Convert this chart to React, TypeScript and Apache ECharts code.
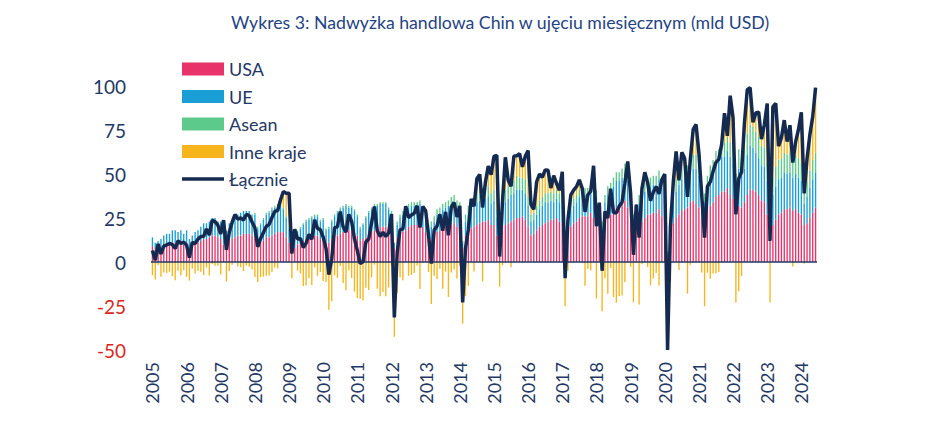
import React, { useEffect, useRef } from "react";
import * as echarts from "echarts";

// months Jan 2005 - Jun 2024
const years = [
  2005, 2006, 2007, 2008, 2009, 2010, 2011, 2012, 2013, 2014,
  2015, 2016, 2017, 2018, 2019, 2020, 2021, 2022, 2023, 2024,
];
const monthsInLastYear = 6;
const categories = years.flatMap((y, i) =>
  Array.from({ length: i === years.length - 1 ? monthsInLastYear : 12 }, (_, m) =>
    `${y}-${String(m + 1).padStart(2, "0")}`
  )
);

const yTicks = [-50, -25, 0, 25, 50, 75, 100];

// mld USD, one row per year
const usa = [
  9, 7, 7, 8, 9, 10, 10, 11, 11, 11, 12, 10,
  11, 8, 9, 10, 11, 12, 13, 13, 14, 15, 15, 14,
  13, 10, 10, 12, 13, 14, 15, 15, 16, 16, 16, 15,
  14, 10, 11, 12, 14, 14, 15, 16, 17, 17, 17, 14,
  11, 8, 8, 10, 11, 12, 13, 14, 14, 15, 15, 13,
  14, 11, 11, 13, 14, 15, 16, 17, 18, 18, 18, 16,
  15, 12, 13, 14, 16, 17, 18, 19, 20, 20, 20, 18,
  17, 8, 14, 16, 17, 18, 20, 21, 21, 21, 22, 20,
  17, 13, 13, 15, 17, 18, 19, 20, 21, 21, 22, 20,
  19, 8, 15, 17, 19, 20, 21, 22, 23, 23, 24, 21,
  21, 15, 10, 18, 21, 22, 23, 24, 25, 25, 26, 24,
  20, 15, 16, 18, 20, 21, 22, 23, 24, 24, 25, 23,
  22, 10, 17, 20, 22, 23, 25, 26, 26, 26, 28, 25,
  25, 20, 14, 23, 25, 27, 29, 31, 32, 33, 35, 31,
  24, 15, 18, 21, 23, 25, 27, 27, 28, 28, 30, 26,
  24, 3, 17, 22, 25, 27, 29, 30, 31, 34, 35, 33,
  31, 25, 23, 29, 32, 34, 37, 38, 40, 40, 42, 38,
  36, 27, 32, 31, 34, 38, 41, 41, 40, 38, 35, 34,
  27, 18, 21, 24, 27, 28, 30, 30, 31, 29, 30, 28,
  27, 21, 22, 25, 28, 31,
];

const ue = [
  5, 4, 5, 5, 6, 6, 6, 7, 7, 6, 6, 6,
  7, 5, 6, 7, 7, 8, 9, 9, 9, 10, 10, 9,
  10, 7, 8, 10, 11, 11, 12, 13, 13, 13, 13, 12,
  13, 9, 10, 12, 13, 14, 15, 15, 15, 15, 13, 11,
  8, 5, 6, 7, 8, 9, 10, 10, 11, 11, 11, 10,
  10, 7, 8, 10, 12, 13, 14, 14, 14, 13, 13, 13,
  11, 7, 8, 11, 12, 13, 14, 13, 13, 13, 13, 12,
  10, 3, 7, 9, 10, 11, 11, 11, 11, 11, 11, 10,
  9, 6, 7, 8, 10, 10, 11, 11, 11, 12, 12, 11,
  11, 3, 8, 10, 11, 12, 13, 13, 13, 13, 13, 12,
  14, 10, 5, 12, 13, 14, 15, 15, 16, 16, 15, 15,
  12, 8, 8, 9, 10, 11, 12, 11, 11, 10, 11, 11,
  11, 4, 8, 9, 10, 11, 12, 12, 12, 12, 13, 12,
  12, 9, 6, 11, 13, 13, 14, 15, 14, 15, 16, 15,
  14, 8, 11, 12, 15, 15, 16, 16, 16, 16, 17, 16,
  15, 2, 9, 12, 15, 17, 18, 18, 17, 18, 18, 20,
  18, 13, 11, 14, 16, 17, 19, 19, 20, 20, 21, 22,
  20, 15, 21, 18, 19, 23, 25, 24, 22, 21, 20, 20,
  19, 11, 17, 19, 20, 20, 21, 20, 20, 19, 20, 20,
  19, 12, 15, 17, 19, 20,
];

const asean = [
  0, 0, 0, 0, 0, 0, 0, 0, 0, 0, 0, 0,
  0, 0, 0, 0, 0, 0, 0, 0, 0, 0, 0, 0,
  0, 0, 0, 0, 0, 0, 0, 0, 0, 0, 0, 0,
  1, 1, 1, 1, 1, 1, 1, 1, 1, 1, 1, 1,
  1, 1, 1, 1, 1, 1, 1, 1, 1, 1, 1, 1,
  1, 1, 1, 1, 1, 1, 1, 1, 1, 1, 1, 1,
  1, 1, 1, 1, 1, 1, 1, 1, 1, 1, 1, 1,
  2, 0, 2, 2, 2, 2, 2, 2, 2, 2, 2, 2,
  3, 2, 3, 3, 3, 3, 3, 3, 3, 4, 4, 4,
  4, 1, 4, 5, 5, 5, 5, 6, 6, 6, 6, 6,
  6, 5, 2, 6, 7, 7, 8, 7, 8, 7, 7, 8,
  5, 4, 4, 5, 5, 5, 5, 5, 5, 5, 5, 5,
  4, 2, 4, 4, 4, 4, 4, 4, 4, 4, 4, 4,
  4, 4, 3, 4, 5, 5, 5, 5, 5, 5, 5, 5,
  4, 4, 4, 5, 5, 5, 5, 5, 5, 5, 5, 5,
  6, 1, 5, 6, 7, 7, 7, 7, 7, 8, 8, 8,
  7, 6, 5, 6, 7, 7, 7, 7, 7, 8, 8, 8,
  10, 8, 11, 10, 11, 12, 12, 12, 12, 12, 11, 11,
  10, 6, 10, 11, 11, 11, 11, 11, 11, 11, 11, 11,
  10, 7, 9, 10, 11, 11,
];

const inne = [
  -7.5, -10.0, -1.7, -8.4, -6.0, -6.3, -5.5, -8.0, -10.4, -5.0, -7.5, -4.7,
  -8.4, -10.5, -3.8, -6.5, -5.0, -5.5, -7.4, -3.2, -7.7, -1.2, -2.1, -2.1,
  -7.1, 6.8, -11.1, -5.1, -1.5, 2.0, -2.6, -3.0, -5.1, -2.0, -2.7, -4.3,
  -8.5, -11.4, -8.6, -8.3, -7.8, -7.6, -5.7, -3.3, -3.7, 2.2, 9.1, 13.0,
  19.1, -9.2, 3.6, -4.9, -6.6, -13.7, -13.4, -9.3, -13.1, -3.0, -7.9, -5.6,
  -10.8, -11.4, -27.2, -22.3, -7.5, -9.0, -2.3, -12.0, -16.1, -4.9, -9.1, -16.9,
  -20.5, -20.9, -21.9, -14.6, -15.9, -8.7, -1.5, -15.2, -19.5, -17.0, -19.5, -14.5,
  -1.7, -42.5, -17.6, -8.6, -10.3, 0.7, -7.8, -7.3, -6.3, -2.0, -15.4, -0.4,
  0.2, -5.7, -23.9, -7.8, -9.6, -3.9, -15.2, -5.5, -19.8, -5.9, -4.2, -9.4,
  -2.1, -35.0, -19.3, -13.5, 0.9, -5.4, 8.3, 8.8, -11.0, 3.4, 11.5, 10.6,
  19.0, 30.6, -13.9, -1.9, 18.5, 3.5, -3.0, 14.2, 11.3, 13.6, 6.1, 13.1,
  26.3, 5.6, 1.9, 13.6, 15.0, 11.1, 13.3, 13.1, 2.0, 10.1, 3.6, 1.8,
  14.3, -25.2, -5.0, 5.1, 4.8, 4.8, 5.7, -0.1, -13.5, -3.8, -4.8, 13.7,
  -20.7, 0.7, -28.0, -9.2, -18.1, -3.4, -19.9, -23.1, -19.3, -19.0, -11.3, 6.1,
  -2.8, -22.9, -0.4, -24.2, -1.3, 6.0, -2.9, -13.2, -9.3, -6.2, -13.3, -0.2,
  5.0, -56.0, -11.1, 5.3, 15.9, -4.6, 8.3, 3.9, -18.0, -1.6, 14.4, 17.2,
  6.0, -6.0, -25.2, -6.1, -9.5, -6.5, -6.4, -5.7, -0.2, 16.5, 0.7, 26.5,
  16.0, -23.0, -16.6, -7.9, 14.8, 24.9, 21.0, 2.4, 10.7, 14.2, 3.8, 13.0,
  34.0, -23.0, 40.2, 36.2, 7.8, 11.6, 18.6, 7.4, 15.7, -2.5, 7.4, 16.3,
  29.0, -1.0, 12.6, 20.4, 24.6, 37.1,
];

const lacznie = [
  6.5, 1.0, 10.3, 4.6, 9.0, 9.7, 10.5, 10.0, 7.6, 12.0, 10.5, 11.3,
  9.6, 2.5, 11.2, 10.5, 13.0, 14.5, 14.6, 18.8, 15.3, 23.8, 22.9, 20.9,
  15.9, 23.8, 6.9, 16.9, 22.5, 27.0, 24.4, 25.0, 23.9, 27.0, 26.3, 22.7,
  19.5, 8.6, 13.4, 16.7, 20.2, 21.4, 25.3, 28.7, 29.3, 35.2, 40.1, 39.0,
  39.1, 4.8, 18.6, 13.1, 13.4, 8.3, 10.6, 15.7, 12.9, 24.0, 19.1, 18.4,
  14.2, 7.6, -7.2, 1.7, 19.5, 20.0, 28.7, 20.0, 16.9, 27.1, 22.9, 13.1,
  6.5, -0.9, 0.1, 11.4, 13.1, 22.3, 31.5, 17.8, 14.5, 17.0, 14.5, 16.5,
  27.3, -31.5, 5.4, 18.4, 18.7, 31.7, 25.2, 26.7, 27.7, 32.0, 19.6, 31.6,
  29.2, 15.3, -0.9, 18.2, 20.4, 27.1, 17.8, 28.5, 15.2, 31.1, 33.8, 25.6,
  31.9, -23.0, 7.7, 18.5, 35.9, 31.6, 47.3, 49.8, 31.0, 45.4, 54.5, 49.6,
  60.0, 60.6, 3.1, 34.1, 59.5, 46.5, 43.0, 60.2, 60.3, 61.6, 54.1, 60.1,
  63.3, 32.6, 29.9, 45.6, 50.0, 48.1, 52.3, 52.1, 42.0, 49.1, 44.6, 40.8,
  51.3, -9.2, 24.0, 38.1, 40.8, 42.8, 46.7, 41.9, 28.5, 38.2, 40.2, 54.7,
  20.3, 33.7, -5.0, 28.8, 24.9, 41.6, 28.1, 27.9, 31.7, 34.0, 44.7, 57.1,
  39.2, 4.1, 32.6, 13.8, 41.7, 51.0, 45.1, 34.8, 39.7, 42.8, 38.7, 46.8,
  50.0, -50.0, 19.9, 45.3, 62.9, 46.4, 62.3, 58.9, 37.0, 58.4, 75.4, 78.2,
  62.0, 38.0, 13.8, 42.9, 45.5, 51.5, 56.6, 58.3, 66.8, 84.5, 71.7, 94.5,
  82.0, 27.0, 47.4, 51.1, 78.8, 97.9, 99.0, 79.4, 84.7, 85.2, 69.8, 78.0,
  90.0, 12.0, 88.2, 90.2, 65.8, 70.6, 80.6, 68.4, 77.7, 56.5, 68.4, 75.3,
  85.0, 39.0, 58.6, 72.4, 82.6, 99.1,
];

const navy = "#1f3864";
const font = "Lato, 'Noto Sans', sans-serif";

const App: React.FC = () => {
  const chartRef = useRef<HTMLDivElement>(null);

  useEffect(() => {
    const chart = echarts.init(chartRef.current!, undefined, { renderer: "svg" });
    const bar = (name: string, data: number[], color: string) => ({
      name,
      type: "bar",
      stack: "total",
      data,
      barWidth: "48%",
      itemStyle: { color },
    });

    const options = {
      animation: false,
      backgroundColor: "#ffffff",
      textStyle: { fontFamily: font },
      title: {
        text: "Wykres 3: Nadwyżka handlowa Chin w ujęciu miesięcznym (mld USD)",
        left: 231,
        top: 13,
        padding: 0,
        textStyle: { color: "#1f4384", fontSize: 17.7, fontWeight: "normal", fontFamily: font },
      },
      legend: {
        orient: "vertical",
        left: 182,
        top: 59,
        padding: 0,
        itemWidth: 42,
        itemHeight: 13,
        itemGap: 7.5,
        textStyle: { color: navy, fontSize: 18, lineHeight: 20, fontFamily: font },
        data: [
          { name: "USA", icon: "rect" },
          { name: "UE", icon: "rect" },
          { name: "Asean", icon: "rect" },
          { name: "Inne kraje", icon: "rect" },
          { name: "Łącznie", icon: "path://M0,0H42V3.5H0Z" },
        ],
      },
      grid: { left: 151, right: 131, top: 86, bottom: 80 },
      xAxis: {
        type: "category",
        data: categories,
        axisLine: { show: false },
        axisTick: { show: false },
        axisLabel: {
          interval: (_: number, v: string) => v.endsWith("-01"),
          formatter: (v: string) => v.slice(0, 4),
          rotate: 90,
          margin: 12,
          color: navy,
          fontSize: 18,
          fontFamily: font,
        },
      },
      yAxis: {
        type: "value",
        min: yTicks[0],
        max: yTicks[yTicks.length - 1],
        interval: 25,
        splitLine: { show: false },
        axisLine: { show: false },
        axisTick: { show: false },
        axisLabel: {
          margin: 25,
          fontSize: 19,
          fontFamily: font,
          formatter: (v: number) => (v < 0 ? `{neg|${v}}` : `{pos|${v}}`),
          rich: {
            pos: { color: navy, fontSize: 19, fontFamily: font },
            neg: { color: "#d9261c", fontSize: 19, fontFamily: font },
          },
        },
      },
      series: [
        bar("USA", usa, "#e8336a"),
        bar("UE", ue, "#1a9ed6"),
        bar("Asean", asean, "#5cca8a"),
        bar("Inne kraje", inne, "#f7b51c"),
        {
          name: "Łącznie",
          type: "line",
          data: lacznie,
          symbol: "none",
          z: 5,
          lineStyle: { color: "#142a50", width: 3.5 },
          itemStyle: { color: "#142a50" },
          markLine: {
            silent: true,
            symbol: "none",
            label: { show: false },
            lineStyle: { color: navy, type: "solid", width: 1.5 },
            data: [{ yAxis: 0 }],
          },
        },
      ],
    };
    chart.setOption(options);

    return () => {
      chart.dispose();
    };
  }, []);

  return (
    <div
      ref={chartRef}
      style={{ position: "fixed", left: 0, top: 0, width: 948, height: 430 }}
    ></div>
  );
};

export default App;
